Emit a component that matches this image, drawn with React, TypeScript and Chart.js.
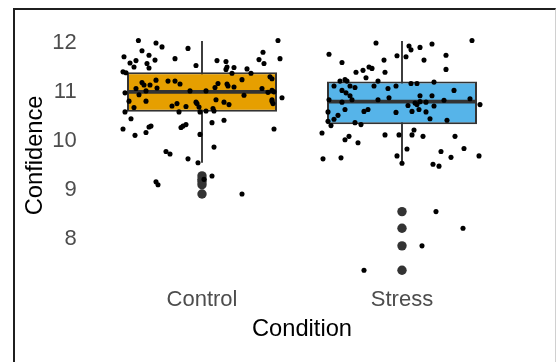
import { useEffect, useRef } from 'react';
import { Chart, registerables } from 'chart.js';

Chart.register(...registerables);

// ---------- data ----------
const categories = ['Control', 'Stress'];
const yTicks = [8, 9, 10, 11, 12];
const xTitle = 'Condition';
const yTitle = 'Confidence';

const boxQ1 = [10.595, 10.34];
const boxMedian = [11.0, 10.8];
const boxQ3 = [11.4, 11.21];
const whiskerLow = [9.55, 9.52];
const whiskerHigh = [12.04, 12.04];

const controlOutliers = [9.28, 9.21, 9.16, 9.1, 8.91];
const stressOutliers = [8.55, 8.21, 7.85, 7.35];

const controlJitter = [
  -0.318, -0.23, -0.2, -0.3, -0.39, -0.265, -0.33, -0.235, -0.36, -0.34, -0.275, -0.265, -0.135, -0.07, -0.03,
  0.075, 0.12, 0.125, 0.16, 0.12, 0.225, 0.245, 0.15, 0.285, 0.305, 0.31, 0.38, 0.39, -0.395, -0.38,
  -0.3, -0.29, -0.33, -0.26, -0.23, -0.225, -0.28, -0.315, -0.385, -0.365, -0.28, -0.385, -0.34,
  -0.17, -0.135, -0.11, -0.06, -0.15, -0.125, -0.115, -0.08, -0.03, -0.025, -0.015, -0.01, 0.02, 0.02,
  0.055, 0.06, 0.07, 0.08, 0.065, 0.11, 0.135, 0.125, 0.16, 0.13, 0.2, 0.21, 0.3, 0.33, 0.34, 0.35,
  0.35, 0.36, 0.35, 0.355, 0.4, 0.35, -0.355, -0.395, -0.335, -0.28, -0.265, -0.255, -0.105, -0.095,
  -0.08, -0.01, 0.05, 0.11, 0.36, 0.06, -0.18, -0.16, -0.07, -0.02, -0.23, -0.22, 0.05, 0.2, 0.01,
];
const controlValues = [
  12.05, 12.0, 11.92, 11.84, 11.72, 11.75, 11.64, 11.65, 11.59, 11.51, 11.58, 11.49, 11.68, 11.89, 11.54,
  11.64, 11.62, 11.51, 11.5, 11.46, 11.47, 11.38, 11.38, 11.66, 11.81, 11.58, 12.05, 11.68, 11.41, 11.39,
  11.19, 11.14, 11.07, 11.14, 11.24, 11.08, 11.02, 10.94, 10.98, 10.81, 10.81, 10.59, 10.68,
  11.22, 11.22, 11.16, 11.02, 10.71, 10.76, 10.59, 10.7, 10.79, 10.76, 10.69, 10.59, 10.61, 11.02,
  10.66, 10.61, 10.84, 11.17, 11.09, 10.79, 10.74, 11.16, 11.1, 11.12, 11.25, 10.93, 11.07, 10.99, 11.31, 11.27,
  11.03, 11.0, 10.81, 10.76, 10.88, 10.84, 10.45, 10.24, 10.11, 10.17, 10.28, 10.3, 10.27, 10.3,
  10.33, 10.13, 10.37, 10.42, 10.24, 9.87, 9.78, 9.73, 9.63, 9.55, 9.16, 9.1, 9.28, 8.91, 9.21,
];

const stressJitter = [
  -0.13, 0.035, 0.045, 0.09, 0.15, 0.35, -0.365, -0.025, 0.02, -0.3, -0.09, 0.11, 0.22, 0.22,
  -0.23, -0.195, -0.165, -0.15, -0.085, -0.18, -0.31, -0.285, -0.275, -0.12, -0.34, -0.26, -0.235,
  -0.3, -0.28, -0.26, -0.365, -0.3, -0.25, -0.14, -0.07, -0.03, -0.12, -0.065, 0.045, 0.075, 0.16,
  0.09, 0.15, 0.26, 0.21, 0.34, 0.39, 0.03, 0.065, 0.075, 0.09, 0.12, 0.16, 0.05, 0.085, 0.12, -0.03,
  -0.17, -0.19, -0.285, -0.37, -0.32, -0.34, -0.37, -0.355, -0.235, -0.205, 0.14, 0.225, -0.4,
  -0.265, -0.285, -0.22, -0.085, -0.015, 0.05, 0.06, 0.105, 0.265, 0.025, -0.025, 0.195, 0.31,
  0.245, 0.385, -0.395, -0.305, 0.0, 0.155, 0.185, 0.17, 0.305, 0.1, -0.19,
];
const stressValues = [
  12.0, 11.94, 11.86, 11.91, 11.98, 12.05, 11.77, 11.74, 11.72, 11.6, 11.65, 11.65, 11.75, 11.46,
  11.4, 11.44, 11.51, 11.48, 11.4, 11.29, 11.22, 11.25, 11.22, 11.22, 11.12, 11.12, 11.09,
  11.03, 10.98, 10.92, 10.84, 10.79, 10.84, 11.12, 11.07, 11.12, 10.84, 10.88, 11.17, 11.17, 11.2,
  10.92, 10.92, 11.03, 10.83, 10.86, 10.74, 10.72, 10.77, 10.74, 10.8, 10.79, 10.71, 10.6, 10.64, 10.59, 10.58,
  10.64, 10.6, 10.64, 10.59, 10.52, 10.44, 10.4, 10.31, 10.37, 10.33, 10.45, 10.42, 10.16,
  10.09, 10.02, 9.96, 10.12, 10.12, 10.12, 10.22, 10.09, 10.09, 9.83, 9.69, 9.78, 9.84,
  9.66, 9.69, 9.63, 9.65, 9.54, 9.52, 9.48, 8.55, 8.21, 7.85, 7.35,
];

// ---------- styles ----------
const FILLS = ['#E69F00', '#56B4E9'];
const LINE = '#333333';
const BOX_WIDTH = 0.75;
const FONT = "'Liberation Sans', Arial, Helvetica, sans-serif";
const Y_MIN = 7.115;
const Y_MAX = 12.285;

export default function App() {
  const ref = useRef<HTMLCanvasElement | null>(null);

  useEffect(() => {
    if (!ref.current) return;
    const outliers = [controlOutliers, stressOutliers];
    const jitterX = [controlJitter, stressJitter];
    const jitterY = [controlValues, stressValues];

    const datasets: any[] = [];
    categories.forEach((_, i) => {
      datasets.push({
        type: 'line',
        data: [
          { x: i + 1, y: whiskerLow[i] },
          { x: i + 1, y: whiskerHigh[i] },
        ],
        borderColor: LINE,
        borderWidth: 1.9,
        pointRadius: 0,
        fill: false,
        order: 5,
      });
    });
    datasets.push({
      type: 'bar',
      data: categories.map((_, i) => ({ x: i + 1, y: [boxQ1[i], boxQ3[i]] })),
      backgroundColor: FILLS,
      borderColor: LINE,
      borderWidth: 2,
      borderSkipped: false,
      barPercentage: BOX_WIDTH,
      categoryPercentage: 1,
      order: 4,
    });
    categories.forEach((_, i) => {
      datasets.push({
        type: 'line',
        data: [
          { x: i + 1 - BOX_WIDTH / 2, y: boxMedian[i] },
          { x: i + 1 + BOX_WIDTH / 2, y: boxMedian[i] },
        ],
        borderColor: LINE,
        borderWidth: 3.6,
        borderCapStyle: 'butt',
        pointRadius: 0,
        fill: false,
        order: 3,
      });
    });
    datasets.push({
      type: 'scatter',
      data: outliers.flatMap((arr, i) => arr.map((v) => ({ x: i + 1, y: v }))),
      backgroundColor: LINE,
      borderWidth: 0,
      pointRadius: 4.7,
      order: 2,
    });
    datasets.push({
      type: 'scatter',
      data: jitterX.flatMap((arr, i) => arr.map((dx, k) => ({ x: i + 1 + dx, y: jitterY[i][k] }))),
      backgroundColor: '#000000',
      borderWidth: 0,
      pointRadius: 2.55,
      order: 1,
    });

    const chart = new Chart(ref.current, {
      type: 'bar',
      data: { datasets },
      options: {
        animation: false,
        responsive: false,
        devicePixelRatio: 1,
        layout: { padding: { left: 0, top: 29.07, right: 34, bottom: 0 } },
        plugins: { legend: { display: false }, tooltip: { enabled: false } },
        scales: {
          x: {
            type: 'linear',
            min: 0.4,
            max: 2.6,
            offset: false,
            grid: { display: false, drawTicks: false, offset: false },
            border: { display: false },
            afterBuildTicks: (s: any) => {
              s.ticks = categories.map((_, i) => ({ value: i + 1 }));
            },
            afterFit: (s: any) => {
              s.height = 80.25;
            },
            ticks: {
              autoSkip: false,
              maxRotation: 0,
              padding: 4.7,
              color: '#4D4D4D',
              font: { family: FONT, size: 22 },
              callback: (v: any) => categories[Math.round(Number(v)) - 1] ?? '',
            },
            title: {
              display: true,
              text: xTitle,
              color: '#000000',
              font: { family: FONT, size: 23.7 },
              padding: { top: 0, bottom: 18.8 },
            },
          },
          y: {
            type: 'linear',
            min: Y_MIN,
            max: Y_MAX,
            grid: { display: false, drawTicks: false },
            border: { display: false },
            afterBuildTicks: (s: any) => {
              s.ticks = yTicks.map((v) => ({ value: v }));
            },
            afterFit: (s: any) => {
              s.width = 82;
            },
            ticks: {
              padding: 5.3,
              color: '#4D4D4D',
              font: { family: FONT, size: 22 },
              callback: (v: any) => String(v),
            },
            title: {
              display: true,
              text: yTitle,
              color: '#000000',
              font: { family: FONT, size: 23.7 },
              padding: { top: 20.8, bottom: 0 },
            },
          },
        },
      },
    });
    return () => chart.destroy();
  }, []);

  return (
    <div style={{ position: 'fixed', left: 0, top: 0, width: 556, height: 362, overflow: 'hidden', background: '#ffffff' }}>
      <div
        style={{
          position: 'absolute',
          left: 13,
          top: 8,
          width: 543,
          height: 400,
          boxSizing: 'border-box',
          borderLeft: '2px solid #1f1f1f',
          borderTop: '2px solid #1f1f1f',
          borderRight: '1px solid #d0d0d0',
        }}
      />
      <canvas ref={ref} width={556} height={362} style={{ position: 'absolute', left: 0, top: 0, width: 556, height: 362 }} />
    </div>
  );
}
